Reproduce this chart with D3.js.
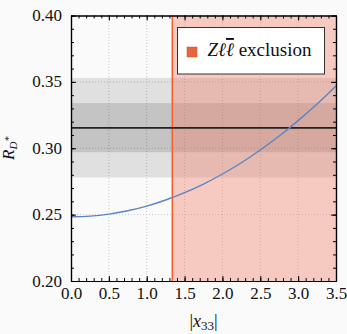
<!DOCTYPE html>
<html>
<head>
<meta charset="utf-8">
<script src="https://cdn.jsdelivr.net/npm/d3@7"></script>
<style>
  html, body { margin: 0; padding: 0; background: #fafafa; }
  svg, svg text { font-family: "Liberation Serif", "DejaVu Serif", "Times New Roman", Times, serif !important; }
</style>
</head>
<body>
<div id="chart"></div>
<script>
// curve R_D* vs |x33|
const xValues = [0, 0.25, 0.5, 0.75, 1.0, 1.25, 1.5, 1.75, 2.0, 2.25, 2.5, 2.75, 3.0, 3.25, 3.5];
const rdValues = [0.2484, 0.2489, 0.2504, 0.2529, 0.2564, 0.2610, 0.2665, 0.2730, 0.2806, 0.2891, 0.2987, 0.3092, 0.3208, 0.3333, 0.3469];

// experimental value and bands
const rdCentral = [0.3153];
const innerBand = [0.297, 0.334];
const outerBand = [0.278, 0.353];

// exclusion bound on |x33|
const exclusion = [1.338, 3.5];

const xTicks = [0.0, 0.5, 1.0, 1.5, 2.0, 2.5, 3.0, 3.5];
const yTicks = [0.20, 0.25, 0.30, 0.35, 0.40];

const width = 347, height = 334;
const margin = { top: 15.5, right: 11, bottom: 53, left: 71 };
const serif = '"Liberation Serif", "DejaVu Serif", "Times New Roman", Times, serif';

const svg = d3.select('#chart').append('svg')
  .attr('width', width)
  .attr('height', height)
  .attr('font-family', serif);

const x = d3.scaleLinear().domain([0, 3.5]).range([margin.left, width - margin.right]);
const y = d3.scaleLinear().domain([0.20, 0.40]).range([height - margin.bottom, margin.top]);

const g = svg.append('g');

// grid
g.append('g')
  .selectAll('line')
  .data(xTicks.slice(1, -1))
  .enter().append('line')
  .attr('x1', d => x(d)).attr('x2', d => x(d))
  .attr('y1', y(0.20)).attr('y2', y(0.40))
  .attr('stroke', '#c8c8c8').attr('stroke-width', 1)
  .attr('stroke-dasharray', '1,2');
g.append('g')
  .selectAll('line')
  .data(yTicks.slice(1, -1))
  .enter().append('line')
  .attr('x1', x(0)).attr('x2', x(3.5))
  .attr('y1', d => y(d)).attr('y2', d => y(d))
  .attr('stroke', '#c8c8c8').attr('stroke-width', 1)
  .attr('stroke-dasharray', '1,2');

// bands
g.append('rect')
  .attr('x', x(0)).attr('width', x(3.5) - x(0))
  .attr('y', y(outerBand[1])).attr('height', y(outerBand[0]) - y(outerBand[1]))
  .attr('fill', '#000').attr('fill-opacity', 0.1);
g.append('rect')
  .attr('x', x(0)).attr('width', x(3.5) - x(0))
  .attr('y', y(innerBand[1])).attr('height', y(innerBand[0]) - y(innerBand[1]))
  .attr('fill', '#000').attr('fill-opacity', 0.125);

// exclusion region
g.append('rect')
  .attr('x', x(exclusion[0])).attr('width', x(exclusion[1]) - x(exclusion[0]))
  .attr('y', y(0.40)).attr('height', y(0.20) - y(0.40))
  .attr('fill', '#f0826c').attr('fill-opacity', 0.4);
g.append('line')
  .attr('x1', x(exclusion[0])).attr('x2', x(exclusion[0]))
  .attr('y1', y(0.20)).attr('y2', y(0.40))
  .attr('stroke', '#f2602e').attr('stroke-width', 1.5);

// central value
g.append('line')
  .attr('x1', x(0)).attr('x2', x(3.5))
  .attr('y1', y(rdCentral[0])).attr('y2', y(rdCentral[0]))
  .attr('stroke', '#222').attr('stroke-width', 1.8);

// curve
const pts = xValues.map((v, i) => [v, rdValues[i]]);
g.append('path')
  .datum(pts)
  .attr('fill', 'none')
  .attr('stroke', '#5b84c4')
  .attr('stroke-width', 1.4)
  .attr('d', d3.line().x(d => x(d[0])).y(d => y(d[1])).curve(d3.curveMonotoneX));

// frame axes, ticks pointing inward
function frameAxis(axis, tr) {
  const a = g.append('g').attr('transform', tr).call(axis);
  a.attr('font-family', serif);
  a.select('.domain').attr('stroke', '#000').attr('stroke-width', 1.2);
  a.selectAll('.tick line').attr('stroke', '#000').attr('stroke-width', 1);
  return a;
}
const xMinor = d3.range(0, 3.5001, 0.1);
const yMinor = d3.range(0.20, 0.4001, 0.01);

frameAxis(d3.axisBottom(x).tickValues(xMinor).tickSizeInner(-3).tickSizeOuter(0).tickFormat(''), `translate(0,${y(0.20)})`);
const bottomMajor = frameAxis(d3.axisBottom(x).tickValues(xTicks).tickSizeInner(-5).tickSizeOuter(0).tickPadding(9).tickFormat(d3.format('.1f')), `translate(0,${y(0.20)})`);
frameAxis(d3.axisTop(x).tickValues(xMinor).tickSizeInner(-3).tickSizeOuter(0).tickFormat(''), `translate(0,${y(0.40)})`);
frameAxis(d3.axisTop(x).tickValues(xTicks).tickSizeInner(-5).tickSizeOuter(0).tickFormat(''), `translate(0,${y(0.40)})`);
frameAxis(d3.axisLeft(y).tickValues(yMinor).tickSizeInner(-3).tickSizeOuter(0).tickFormat(''), `translate(${x(0)},0)`);
const leftMajor = frameAxis(d3.axisLeft(y).tickValues(yTicks).tickSizeInner(-5).tickSizeOuter(0).tickPadding(9).tickFormat(d3.format('.2f')), `translate(${x(0)},0)`);
frameAxis(d3.axisRight(y).tickValues(yMinor).tickSizeInner(-3).tickSizeOuter(0).tickFormat(''), `translate(${x(3.5)},0)`);
frameAxis(d3.axisRight(y).tickValues(yTicks).tickSizeInner(-5).tickSizeOuter(0).tickFormat(''), `translate(${x(3.5)},0)`);

bottomMajor.selectAll('.tick text')
  .attr('font-size', 17).attr('fill', '#111')
  .attr('dy', '0.5em');
leftMajor.selectAll('.tick text')
  .attr('font-size', 17).attr('fill', '#111')
  .attr('dy', '0.3em');

// axis titles
const xt = svg.append('text')
  .attr('x', x(1.75)).attr('y', 327)
  .attr('text-anchor', 'middle')
  .attr('font-size', 18).attr('fill', '#111');
xt.append('tspan').text('|');
xt.append('tspan').attr('font-style', 'italic').text('x');
xt.append('tspan').attr('font-size', 13).attr('dy', 3).text('33');
xt.append('tspan').attr('dy', -3).text('|');

const yt = svg.append('text')
  .attr('transform', `translate(14,${(y(0.20) + y(0.40)) / 2}) rotate(-90)`)
  .attr('text-anchor', 'middle')
  .attr('font-size', 17).attr('fill', '#111')
  .attr('font-style', 'italic');
yt.append('tspan').text('R');
yt.append('tspan').attr('font-size', 11).attr('dy', 3).text('D');
yt.append('tspan').attr('font-size', 10).attr('dy', -5).text('*');

// legend
const lg = svg.append('g');
lg.append('rect')
  .attr('x', 177.5).attr('y', 27.5).attr('width', 147).attr('height', 46.5)
  .attr('fill', '#fff').attr('stroke', '#333').attr('stroke-width', 1);
lg.append('rect')
  .attr('x', 187).attr('y', 47).attr('width', 10).attr('height', 10)
  .attr('fill', '#e8643a').attr('stroke', '#c85530').attr('stroke-width', 0.5);
const lt = lg.append('text')
  .attr('x', 207.5).attr('y', 56)
  .attr('font-size', 19).attr('fill', '#111');
lt.append('tspan').attr('font-style', 'italic').text('Zℓ');
lt.append('tspan').attr('font-style', 'italic').attr('text-decoration', 'overline').text('ℓ');
lt.append('tspan').text(' exclusion');
</script>
</body>
</html>
